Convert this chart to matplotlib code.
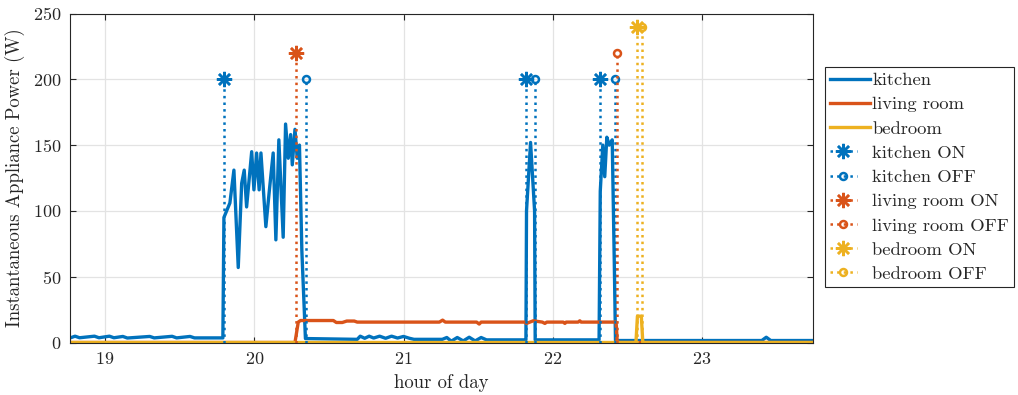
import matplotlib
matplotlib.use("Agg")
import matplotlib.pyplot as plt
from matplotlib.legend_handler import HandlerLine2D

plt.rcParams["font.family"] = ["cmr10", "DejaVu Serif"]
plt.rcParams["mathtext.fontset"] = "cm"
plt.rcParams["axes.unicode_minus"] = False
plt.rcParams["axes.formatter.use_mathtext"] = True

# ---- measured appliance power (hour of day, watts) ----
kitchen_t = [18.75, 18.77, 18.80, 18.83, 18.93, 18.96, 19.03, 19.06, 19.12, 19.15,
             19.30, 19.33, 19.45, 19.48, 19.57, 19.60, 19.790,
             19.797, 19.837, 19.864, 19.893, 19.916, 19.933, 19.949, 19.983, 19.998,
             20.016, 20.033, 20.045, 20.078, 20.100, 20.127, 20.145, 20.165, 20.194,
             20.210, 20.228, 20.244, 20.255, 20.273, 20.288, 20.303, 20.319, 20.343,
             20.69, 20.71, 20.74, 20.77, 20.80, 20.84, 20.88, 20.92, 20.96, 21.00,
             21.04, 21.07, 21.26, 21.29, 21.32, 21.36, 21.40, 21.44, 21.48, 21.52,
             21.556, 21.816,
             21.820, 21.824, 21.851, 21.878, 21.882,
             22.310, 22.318, 22.335, 22.348, 22.362, 22.378, 22.398, 22.412, 22.420,
             23.40, 23.43, 23.46, 23.75]
kitchen_w = [3.5, 3.6, 4.8, 3.6, 4.8, 3.6, 4.8, 3.6, 4.6, 3.4,
             4.6, 3.5, 4.7, 3.5, 4.6, 3.5, 3.5,
             95, 106, 131, 57, 121, 131, 103, 145, 116,
             144, 116, 144, 88, 114, 144, 78, 154, 80,
             166, 140, 158, 135, 162, 140, 150, 70, 3.0,
             2.4, 4.8, 3.2, 4.8, 3.4, 4.8, 3.2, 4.8, 3.4, 4.6,
             3.2, 2.4, 2.4, 3.8, 1.0, 3.8, 1.2, 4.0, 1.2, 3.8,
             2.0, 2.0,
             2.0, 100, 152, 100, 2.0,
             2.0, 115, 150, 126, 156, 150, 154, 60, 1.5,
             1.5, 4.0, 1.5, 1.5]

living_t = [18.75, 20.273, 20.295, 20.31, 20.53, 20.55, 20.59, 20.62, 20.67, 20.69,
            21.24, 21.262, 21.28, 21.49, 21.507, 21.52, 21.81, 21.824, 21.869,
            21.93, 21.947, 21.96, 22.07, 22.081, 22.09, 22.17, 22.181, 22.19,
            22.424, 22.432, 23.75]
living_w = [0, 0, 15.5, 16.7, 16.7, 15.2, 15.2, 16.3, 16.3, 15.5,
            15.5, 17.0, 15.5, 15.5, 14.0, 15.5, 15.5, 14.5, 16.5,
            15.5, 14.5, 15.5, 15.5, 14.5, 15.5, 15.5, 16.5, 15.5,
            15.5, 0, 0]

bedroom_t = [18.75, 22.557, 22.567, 22.593, 22.603, 23.75]
bedroom_w = [0, 0, 20, 20, 0, 0]

# ---- detected switching events ----
kitchen_on = [19.797, 21.820, 22.315]
kitchen_off = [20.346, 21.882, 22.420]
living_on = [20.279]
living_off = [22.431]
bedroom_on = [22.561]
bedroom_off = [22.595]
kitchen_event_level = 200
living_event_level = 220
bedroom_event_level = 240

xticks = [19, 20, 21, 22, 23]
yticks = [0, 50, 100, 150, 200, 250]

BLUE = "#0072BD"
ORANGE = "#D95319"
YELLOW = "#EDB120"
AX_GRAY = "#262626"

ASTERISK = (8, 2, 0)


class EndMarkerHandler(HandlerLine2D):
    """Legend icon: dotted stub with the marker near its right end."""
    def get_xdata(self, legend, xdescent, ydescent, width, height, fontsize):
        x0 = -xdescent
        xm = x0 + 0.66 * width
        return [x0, xm], [xm]


fig = plt.figure(figsize=(10.18, 3.95), dpi=100)
ax = fig.add_axes([70 / 1018, 1 - 342.5 / 395, 743 / 1018, 329 / 395])

lw = 2.4
ax.plot(kitchen_t, kitchen_w, color=BLUE, lw=lw, label="kitchen", zorder=3)
ax.plot(living_t, living_w, color=ORANGE, lw=lw, label="living room", zorder=3)
ax.plot(bedroom_t, bedroom_w, color=YELLOW, lw=lw, label="bedroom", zorder=3)

event_sets = [
    (kitchen_on, kitchen_event_level, BLUE, ASTERISK, 11, "kitchen ON"),
    (kitchen_off, kitchen_event_level, BLUE, "o", 5, "kitchen OFF"),
    (living_on, living_event_level, ORANGE, ASTERISK, 11, "living room ON"),
    (living_off, living_event_level, ORANGE, "o", 5, "living room OFF"),
    (bedroom_on, bedroom_event_level, YELLOW, ASTERISK, 11, "bedroom ON"),
    (bedroom_off, bedroom_event_level, YELLOW, "o", 5, "bedroom OFF"),
]
handler_map = {}
for times, level, color, marker, ms, label in event_sets:
    for i, t in enumerate(times):
        ln, = ax.plot([t, t], [0, level], linestyle=":", color=color, lw=1.8,
                      marker=marker, markersize=ms, markevery=[1],
                      markerfacecolor="none", markeredgecolor=color,
                      markeredgewidth=1.8, zorder=4,
                      label=label if i == 0 else "_nolegend_")
        if i == 0:
            handler_map[ln] = EndMarkerHandler(numpoints=1)

ax.set_xlim(18.766, 23.743)
ax.set_ylim(0, 250)
ax.set_xticks(xticks)
ax.set_yticks(yticks)
ax.tick_params(direction="in", length=4, width=0.8, color=AX_GRAY,
               labelsize=13, labelcolor=AX_GRAY, top=True, right=True, pad=6)
for s in ax.spines.values():
    s.set_color(AX_GRAY)
    s.set_linewidth(0.8)
    s.set_zorder(5)
ax.grid(True, color="#e3e3e3", lw=0.9)
ax.set_axisbelow(True)

ax.set_xlabel("hour of day", fontsize=13.5, color=AX_GRAY, labelpad=5)
ax.set_ylabel("Instantaneous Appliance Power (W)", fontsize=13.5,
              color=AX_GRAY, labelpad=6)

leg = fig.legend(handles=ax.get_lines()[:3] + list(handler_map.keys()),
                 handler_map=handler_map,
                 loc="upper left", bbox_to_anchor=(825 / 1018, 1 - 67 / 395),
                 fontsize=13.4, frameon=True, fancybox=False, framealpha=1,
                 edgecolor=AX_GRAY, handlelength=2.15, handletextpad=0.1,
                 labelspacing=0.44, borderpad=0.28, borderaxespad=0)
leg.get_frame().set_linewidth(0.8)
for txt in leg.get_texts():
    txt.set_color(AX_GRAY)

fig.savefig("out.png", dpi=100)
